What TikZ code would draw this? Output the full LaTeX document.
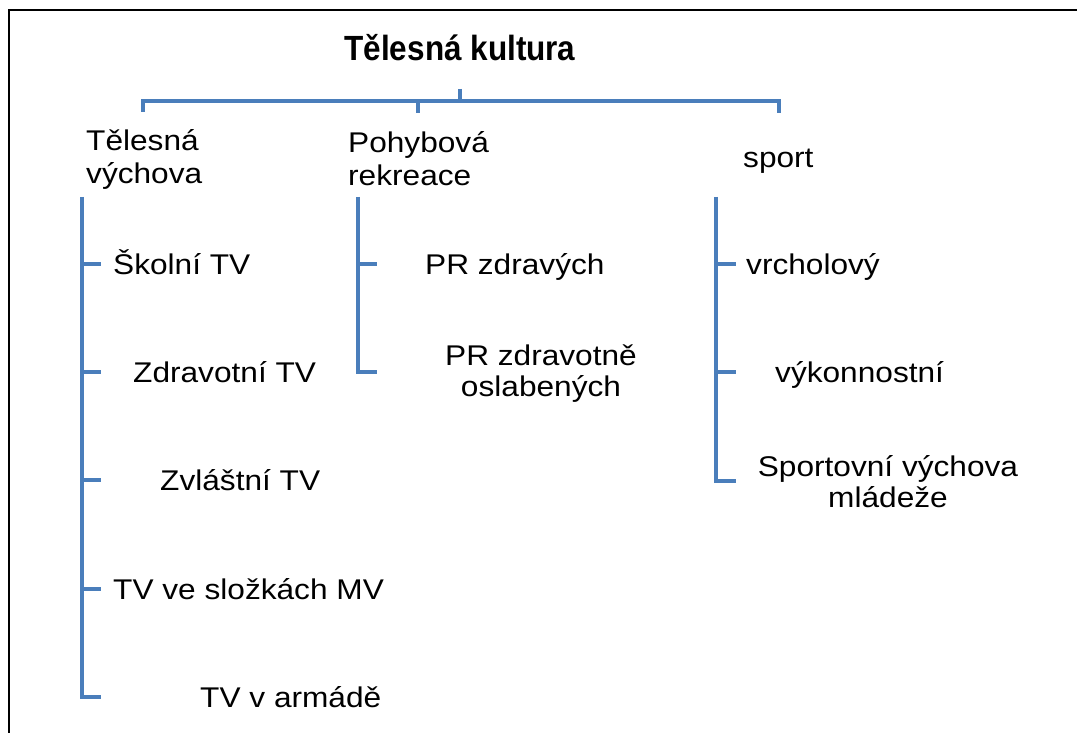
\documentclass[tikz,border=0pt]{standalone}
\usepackage{fontspec}
\setmainfont{Liberation Sans}[FakeStretch=1.11]
\newfontfamily\titlefont{Liberation Sans}[FakeStretch=0.9]
\usetikzlibrary{positioning}
\definecolor{barblue}{RGB}{74,126,187}

\begin{document}
\begin{tikzpicture}[%
    x=1pt, y=-1pt,
    branch/.style={draw=barblue, line width=4.5pt},
    topnode/.style={inner sep=0, font=\titlefont\bfseries\fontsize{35}{40}\selectfont},
    catnode/.style={inner sep=0, anchor=west, align=left, font=\fontsize{28.5}{33}\selectfont},
    itemnode/.style={inner sep=0, anchor=west, text height=22.5pt, text depth=2.1pt, font=\fontsize{28.5}{33}\selectfont},
    twonode/.style={inner sep=0, align=center, font=\fontsize{28.5}{31}\selectfont}
  ]
    \fill[white] (0,0) rectangle (1077,733);
    \useasboundingbox (0,0) rectangle (1077,733);
    \draw[line width=2.8pt] (9,733) -- (9,10) -- (1077,10);

    \node[topnode] (tk) at (460,48) {Tělesná kultura};

    \node[catnode] (tv) at (86,159) {Tělesná\\výchova};
    \node[catnode] (pr) at (348,159) {Pohybová\\rekreace};
    \node[itemnode] (sp) at (743,157) {sport};

    % tree under the title
    \coordinate (stem) at (460,89);
    \coordinate (bar) at (460,101);
    \coordinate (drop1) at (143,112);
    \coordinate (drop2) at (418,113);
    \coordinate (drop3) at (779,113);
    \draw[branch] (stem) -- (bar);
    \draw[branch] (drop1) |- (bar -| drop3) -- (drop3);
    \draw[branch] (bar -| drop2) -- (drop2);

    % Telesna vychova
    \coordinate (tvtop) at (82,197);
    \coordinate (tvend) at (101,697);
    \node[itemnode] (tv1) at (113,264) {Školní TV};
    \node[itemnode] (tv2) at (133,372) {Zdravotní TV};
    \node[itemnode] (tv3) at (160,480) {Zvláštní TV};
    \node[itemnode] (tv4) at (113,589) {TV ve složkách MV};
    \node[itemnode] (tv5) at (200,697) {TV v armádě};
    \draw[branch] (tvtop) |- (tvend);
    \draw[branch] (tvtop |- tv1.west) -- ++(19,0);
    \draw[branch] (tvtop |- tv2.west) -- ++(19,0);
    \draw[branch] (tvtop |- tv3.west) -- ++(19,0);
    \draw[branch] (tvtop |- tv4.west) -- ++(19,0);

    % Pohybova rekreace
    \coordinate (prtop) at (358,197);
    \coordinate (prend) at (377,372);
    \node[itemnode] (pr1) at (425,264) {PR zdravých};
    \node[twonode] (pr2) at (541,374) {PR zdravotně\\oslabených};
    \draw[branch] (prtop) |- (prend);
    \draw[branch] (prtop |- pr1.west) -- ++(19,0);

    % sport
    \coordinate (sptop) at (716,197);
    \coordinate (spend) at (736,481);
    \node[itemnode] (sp1) at (746,264) {vrcholový};
    \node[itemnode] (sp2) at (775,372) {výkonnostní};
    \node[twonode] (sp3) at (888,482) {Sportovní výchova\\mládeže};
    \draw[branch] (sptop) |- (spend);
    \draw[branch] (sptop |- sp1.west) -- ++(20,0);
    \draw[branch] (sptop |- sp2.west) -- ++(20,0);
\end{tikzpicture}
\end{document}
